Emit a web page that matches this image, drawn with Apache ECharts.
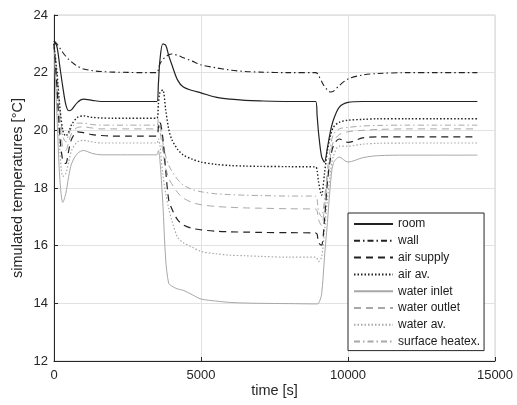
<!DOCTYPE html>
<html>
<head>
<meta charset="utf-8">
<script src="https://cdn.jsdelivr.net/npm/echarts@6/dist/echarts.min.js"></script>
<style>html,body{margin:0;padding:0;background:#fff}#c{width:517px;height:405px}</style>
</head>
<body>
<div id="c"></div>
<script>
// time samples [s]
const time = [0,100,200,300,400,500,600,800,1000,1300, 1600,2000,2500,3000,3500,3550,3600,3700,3800,3900, 4000,4200,4400,4700,5000,5500,6000,6500,7000,8000, 8900,8950,9000,9100,9200,9300,9400,9500,9700,10000, 10500,11000,12000,13000,14400];

const room = [23.1,22.9,22.2,21.5,20.9,20.68,20.72,20.97,21.08,21.04, 21.0,21.0,21.0,21.0,21.0,21.6,22.4,23.0,22.95,22.6, 22.3,21.75,21.5,21.38,21.3,21.15,21.08,21.04,21.02,21.0, 21.0,20.5,19.9,19.1,18.9,19.4,19.95,20.35,20.8,20.97, 21.0,21.0,21.0,21.0,21.0];
const wall = [23.1,23.0,22.85,22.7,22.57,22.46,22.37,22.22,22.13,22.07, 22.04,22.02,22.01,22.0,22.0,22.1,22.3,22.45,22.55,22.62, 22.65,22.6,22.52,22.4,22.27,22.17,22.09,22.04,22.02,22.0, 22.0,21.98,21.9,21.7,21.52,21.4,21.33,21.35,21.55,21.78, 21.92,21.97,22.0,22.0,22.0];
const airSupply = [23.0,21.5,19.8,18.95,18.85,19.3,19.7,19.95,19.92,19.85, 19.82,19.8,19.8,19.8,19.8,20.1,20.3,19.75,18.6,17.6, 17.3,16.9,16.72,16.6,16.55,16.5,16.48,16.47,16.46,16.45, 16.44,16.4,16.1,16.02,16.9,18.2,19.0,19.45,19.7,19.58, 19.74,19.77,19.77,19.77,19.77];
const airAv = [23.0,22.0,20.8,20.0,19.8,19.95,20.2,20.45,20.5,20.45, 20.43,20.42,20.42,20.42,20.42,20.9,21.3,21.4,20.7,20.05, 19.7,19.35,19.14,19.0,18.9,18.82,18.78,18.76,18.75,18.74, 18.73,18.6,18.2,17.75,18.5,19.3,19.8,20.1,20.28,20.35, 20.38,20.4,20.4,20.4,20.4];
const waterInlet = [23.0,20.5,18.3,17.5,17.8,18.4,18.85,19.2,19.3,19.2, 19.15,19.15,19.15,19.15,19.15,19.3,19.0,17.5,15.5,14.7, 14.6,14.5,14.45,14.3,14.15,14.08,14.03,14.01,14.0,13.99, 13.98,13.98,14.0,14.3,15.6,16.8,18.1,18.85,19.07,18.9, 19.05,19.12,19.14,19.14,19.14];
const waterOutlet = [23.0,21.8,20.3,19.4,19.3,19.6,19.9,20.1,20.12,20.08, 20.05,20.05,20.05,20.05,20.05,20.2,20.0,19.3,18.7,18.35, 18.15,17.85,17.65,17.5,17.42,17.36,17.33,17.31,17.3,17.28, 17.27,17.2,16.9,16.7,17.3,18.3,19.1,19.6,19.85,19.95, 20.0,20.03,20.05,20.05,20.05];
const waterAv = [23.0,21.2,19.3,18.4,18.5,18.9,19.3,19.6,19.65,19.6, 19.56,19.56,19.56,19.56,19.56,19.7,19.5,18.5,17.8,17.3, 16.9,16.3,16.1,15.95,15.8,15.72,15.67,15.65,15.63,15.6, 15.6,15.55,15.45,15.6,16.5,17.6,18.5,19.1,19.45,19.45, 19.52,19.55,19.56,19.56,19.56];
const surfaceHeatex = [23.0,22.0,20.7,19.8,19.6,19.85,20.1,20.25,20.25,20.2, 20.18,20.18,20.18,20.18,20.18,20.4,20.2,19.6,19.1,18.8, 18.6,18.3,18.1,17.95,17.87,17.8,17.77,17.75,17.74,17.72, 17.72,17.6,17.2,17.0,17.6,18.6,19.4,19.85,20.05,20.1, 20.15,20.17,20.18,20.18,20.18];

const xTicks = [0, 5000, 10000, 15000];
const yTicks = [12, 14, 16, 18, 20, 22, 24];

const names = ['room','wall','air supply','air av.','water inlet','water outlet','water av.','surface heatex.'];
const values = [room, wall, airSupply, airAv, waterInlet, waterOutlet, waterAv, surfaceHeatex];
const DARK = '#222222', GREY = '#a8a8a8';
const styles = [
  {color: DARK, type: 'solid', width: 1.2},
  {color: DARK, type: [6,3,1.5,3], width: 1.1},
  {color: DARK, type: [7,5], width: 1.2},
  {color: DARK, type: [1.5,2], width: 1.4},
  {color: GREY, type: 'solid', width: 1},
  {color: GREY, type: [7,5], width: 1},
  {color: GREY, type: [1.5,2], width: 1.2},
  {color: GREY, type: [6,3,1.5,3], width: 1}
];

const series = names.map((n, i) => ({
  name: n,
  type: 'line',
  symbol: 'none',
  smooth: 0.3,
  color: styles[i].color,
  lineStyle: styles[i],
  data: time.map((t, k) => [t, values[i][k]]),
  z: 10 - i
}));

const chart = echarts.init(document.getElementById('c'), null, {renderer: 'canvas'});
const FONT = 'Liberation Sans, Arial, sans-serif';
chart.setOption({
  animation: false,
  backgroundColor: '#fff',
  grid: {left: 54, right: 22, top: 15, bottom: 44, show: true, borderColor: '#d0d0d0', borderWidth: 1},
  xAxis: {
    type: 'value', min: xTicks[0], max: xTicks[xTicks.length-1], interval: 5000,
    name: 'time [s]', nameLocation: 'middle', nameGap: 22, nameMoveOverlap: false,
    nameTextStyle: {fontFamily: FONT, fontSize: 14.5, color: '#262626'},
    axisLine: {show: true, onZero: false, lineStyle: {color: '#262626', width: 1}},
    axisTick: {show: true, inside: true, length: 4, lineStyle: {color: '#262626'}},
    axisLabel: {fontFamily: FONT, fontSize: 13, color: '#262626', margin: 8, formatter: v => String(v)},
    splitLine: {show: true, lineStyle: {color: '#e2e2e2', width: 1}}
  },
  yAxis: {
    type: 'value', min: yTicks[0], max: yTicks[yTicks.length-1], interval: 2,
    name: 'simulated temperatures [°C]', nameLocation: 'middle', nameGap: 29, nameMoveOverlap: false,
    nameTextStyle: {fontFamily: FONT, fontSize: 14.5, color: '#262626'},
    axisLine: {show: true, onZero: false, lineStyle: {color: '#262626', width: 1}},
    axisTick: {show: true, inside: true, length: 4, lineStyle: {color: '#262626'}},
    axisLabel: {fontFamily: FONT, fontSize: 13, color: '#262626', margin: 6, formatter: v => String(v)},
    splitLine: {show: true, lineStyle: {color: '#e2e2e2', width: 1}}
  },
  legend: {
    data: names,
    orient: 'vertical',
    left: 348, top: 213,
    padding: [5, 4, 3, 5],
    itemWidth: 39, itemHeight: 12, itemGap: 4.8,
    backgroundColor: '#fff', borderColor: '#262626', borderWidth: 1, borderRadius: 0,
    itemStyle: {opacity: 0, color: 'transparent', borderWidth: 0},
    textStyle: {fontFamily: FONT, fontSize: 12, color: '#1a1a1a'}
  },
  series: series
});
</script>
</body>
</html>
